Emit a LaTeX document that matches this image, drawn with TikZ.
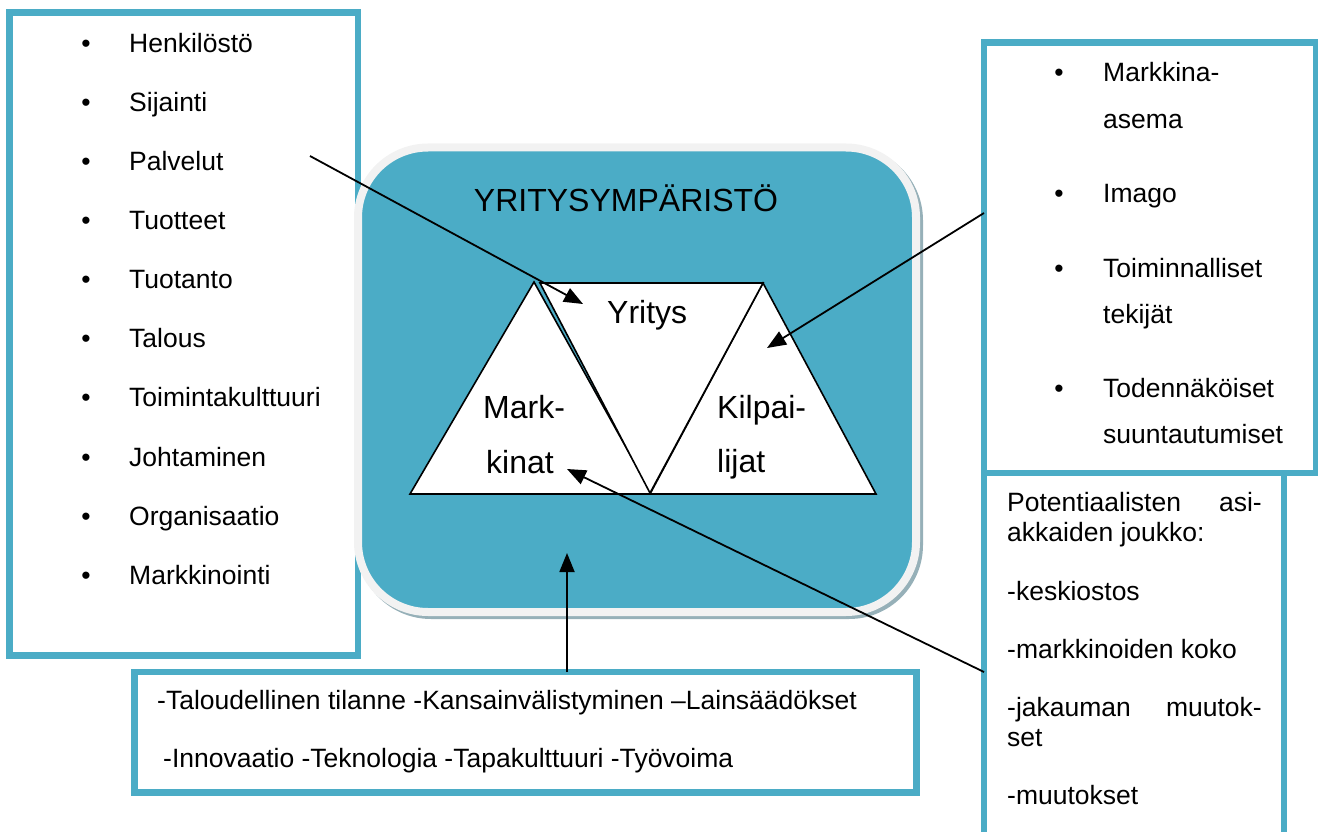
\documentclass[tikz,border=0pt]{standalone}
\usepackage{fontspec}
\setmainfont{Liberation Sans}
\usetikzlibrary{arrows.meta}
\definecolor{boxblue}{RGB}{75,172,198}
\definecolor{rimgray}{RGB}{242,242,242}
\definecolor{shadowgray}{RGB}{150,176,184}
\begin{document}
\begin{tikzpicture}[x=1pt,y=-1pt,
  frame/.style={draw=boxblue, line width=6.5pt, fill=white, inner sep=0pt, outer sep=0pt},
  panel/.style={fill=boxblue, draw=rimgray, line width=8pt, rounded corners=70pt, inner sep=0pt},
  tx/.style={anchor=base west, inner sep=0pt, font=\fontsize{26.5}{30}\selectfont},
  txr/.style={anchor=base east, inner sep=0pt, font=\fontsize{26.5}{30}\selectfont},
  bul/.style={anchor=base, inner sep=0pt, font=\fontsize{26.5}{30}\selectfont},
  big/.style={anchor=base west, inner sep=0pt, font=\fontsize{32}{36}\selectfont},
  tri/.style={draw=black, line width=1.6pt, fill=white, line join=miter},
  arr/.style={-{Triangle[length=19pt,width=15pt]}, line width=1.8pt, draw=black}]
\useasboundingbox (0,0) rectangle (1318,832);

% ---- boxes ----
\node[frame, minimum width=348.5pt, minimum height=643pt] (leftbox) at (183.75,334) {};
\node[frame, minimum width=300pt, minimum height=397pt] (potbox) at (1134,671.5) {};
\node[frame, minimum width=332pt, minimum height=430.5pt] (kilbox) at (1150,257.75) {};
\node[frame, minimum width=782pt, minimum height=120.5pt] (envbox) at (525.5,732.25) {};

% ---- central panel ----
\fill[shadowgray, rounded corners=74pt] (357,146.5) rectangle (923,619);
\node[panel, minimum width=558pt, minimum height=464.5pt] (panel) at (637,379.75) {};
\node[big, anchor=base] (title) at (626,211.5) {YRITYSYMPÄRISTÖ};

% ---- triangles ----
\coordinate (mA) at (534,282); \coordinate (mL) at (410,494); \coordinate (mR) at (652,494);
\coordinate (yL) at (540,283); \coordinate (yR) at (763,283); \coordinate (yB) at (650,493);
\coordinate (kA) at (763,283); \coordinate (kL) at (650,494); \coordinate (kR) at (876,494);
\draw[tri] (mA) -- (mL) -- (mR) -- cycle;
\draw[tri] (kA) -- (kL) -- (kR) -- cycle;
\draw[tri] (yL) -- (yR) -- (yB) -- cycle;
\node[big] (yritys) at (607,323) {Yritys};
\node[big] (mark1) at (483,418) {Mark-};
\node[big] (mark2) at (486,473) {kinat};
\node[big] (kil1) at (717,418) {Kilpai-};
\node[big] (kil2) at (717,472) {lijat};

% ---- left list ----
\foreach \t [count=\i from 0] in {Henkilöstö,Sijainti,Palvelut,Tuotteet,Tuotanto,Talous,Toimintakulttuuri,Johtaminen,Organisaatio,Markkinointi}{
  \node[bul] (lb\i) at (86,52.3+59.1*\i) {•};
  \node[tx] (lt\i) at (129,52.3+59.1*\i) {\t};
}

% ---- top right list ----
\node[bul] (rb1) at (1059,82) {•};
\node[tx] (r1a) at (1103,82) {Markkina-};
\node[tx] (r1b) at (1103,128.5) {asema};
\node[bul] (rb2) at (1059,203) {•};
\node[tx] (r2) at (1103,203) {Imago};
\node[bul] (rb3) at (1059,277) {•};
\node[tx] (r3a) at (1103,277) {Toiminnalliset};
\node[tx] (r3b) at (1103,323.5) {tekijät};
\node[bul] (rb4) at (1059,397) {•};
\node[tx] (r4a) at (1103,397) {Todennäköiset};
\node[tx] (r4b) at (1103,443.5) {suuntautumiset};

% ---- bottom right text ----
\node[tx] (p1) at (1007,511.7) {Potentiaalisten};
\node[txr] (p1r) at (1262,511.7) {asi-};
\node[tx] (p2) at (1007,541.7) {akkaiden joukko:};
\node[tx] (p3) at (1007,600) {-keskiostos};
\node[tx] (p4) at (1007,658) {-markkinoiden koko};
\node[tx] (p5) at (1007,716) {-jakauman};
\node[txr] (p5r) at (1262,716) {muutok-};
\node[tx] (p6) at (1007,746) {set};
\node[tx] (p7) at (1007,804) {-muutokset};

% ---- bottom text ----
\node[tx] (e1) at (157,709) {-Taloudellinen tilanne -Kansainvälistyminen –Lainsäädökset};
\node[tx] (e2) at (163,767) {-Innovaatio -Teknologia -Tapakulttuuri -Työvoima};

% ---- arrows ----
\coordinate (a1s) at (310,156); \coordinate (a1e) at (583,304);
\coordinate (a2s) at (984,213); \coordinate (a2e) at (767,348);
\coordinate (a3s) at (984,672); \coordinate (a3e) at (567,469);
\coordinate (a4s) at (567,672); \coordinate (a4e) at (567,553);
\draw[arr] (a1s) -- (a1e);
\draw[arr] (a2s) -- (a2e);
\draw[arr] (a3s) -- (a3e);
\draw[arr] (a4s) -- (a4e);
\end{tikzpicture}
\end{document}
